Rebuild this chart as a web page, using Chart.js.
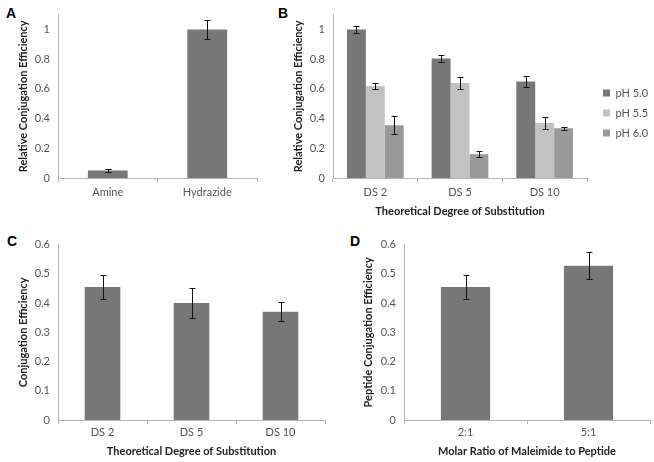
<!DOCTYPE html>
<html>
<head>
<meta charset="utf-8">
<script src="https://cdn.jsdelivr.net/npm/chart.js@4.4.1/dist/chart.umd.min.js"></script>
<style>
body { margin: 0; background: #fff; width: 654px; height: 462px; position: relative; overflow: hidden; }
.panel { position: absolute; }
.letter { position: absolute; font-family: 'Liberation Sans', Arial, sans-serif; font-weight: bold; font-size: 14px; line-height: 14px; color: #000; }
</style>
</head>
<body>
<div class="letter" style="left:6px;top:6px">A</div>
<div class="letter" style="left:278px;top:6px">B</div>
<div class="letter" style="left:7px;top:234px">C</div>
<div class="letter" style="left:350px;top:234px">D</div>
<div class="panel" style="left:0;top:0;width:270px;height:225px"><canvas id="chartA"></canvas></div>
<div class="panel" style="left:270px;top:0;width:384px;height:225px"><canvas id="chartB"></canvas></div>
<div class="panel" style="left:0;top:230px;width:330px;height:232px"><canvas id="chartC"></canvas></div>
<div class="panel" style="left:330px;top:230px;width:324px;height:232px"><canvas id="chartD"></canvas></div>
<script>
// panel A: amine vs hydrazide
const aLabels = ['Amine', 'Hydrazide'];
const aValues = [0.05, 1.0];
const aErrors = [0.01, 0.065];

// panel B: pH series per degree of substitution
const bLabels = ['DS 2', 'DS 5', 'DS 10'];
const bSeries = ['pH 5.0', 'pH 5.5', 'pH 6.0'];
const bPh50 = [1.0, 0.805, 0.65];
const bPh50Err = [0.022, 0.025, 0.04];
const bPh55 = [0.62, 0.64, 0.37];
const bPh55Err = [0.022, 0.04, 0.04];
const bPh60 = [0.355, 0.16, 0.335];
const bPh60Err = [0.06, 0.02, 0.01];

// panel C: conjugation efficiency per degree of substitution
const cLabels = ['DS 2', 'DS 5', 'DS 10'];
const cValues = [0.455, 0.40, 0.37];
const cErrors = [0.042, 0.052, 0.032];

// panel D: molar ratio
const dLabels = ['2:1', '5:1'];
const dValues = [0.455, 0.528];
const dErrors = [0.042, 0.045];

const axisColor = '#b4b4b4';
const tickColor = '#555555';
const titleColor = '#222222';
const tickFont = { family: 'Lato', size: 11 };
const titleFont = { family: 'Lato', size: 11, weight: 'bold' };

// draws the +/- error whiskers on top of each bar using the y scale
const errorBars = {
    id: 'errorBars',
    afterDatasetsDraw(chart) {
        const ctx = chart.ctx;
        const yScale = chart.scales.y;
        ctx.save();
        ctx.strokeStyle = '#111';
        ctx.lineWidth = 1;
        chart.data.datasets.forEach((ds, i) => {
            const meta = chart.getDatasetMeta(i);
            meta.data.forEach((bar, j) => {
                const v = ds.data[j];
                const e = ds.errors[j];
                const x = Math.round(bar.x) + 0.5;
                const top = Math.round(yScale.getPixelForValue(v + e)) + 0.5;
                const bottom = Math.round(yScale.getPixelForValue(v - e)) + 0.5;
                ctx.beginPath();
                ctx.moveTo(x, top); ctx.lineTo(x, bottom);
                ctx.moveTo(x - 3, top); ctx.lineTo(x + 3, top);
                ctx.moveTo(x - 3, bottom); ctx.lineTo(x + 3, bottom);
                ctx.stroke();
            });
        });
        ctx.restore();
    }
};

function buildOptions(cfg)
{
    return {
        responsive: true,
        maintainAspectRatio: false,
        animation: false,
        layout: { padding: cfg.padding },
        plugins: {
            legend: cfg.legend || { display: false },
            tooltip: { enabled: false }
        },
        scales: {
            x: {
                grid: { display: true, drawOnChartArea: false, drawTicks: true, tickLength: 4, color: axisColor, offset: true },
                border: { display: true, color: axisColor },
                ticks: { color: tickColor, font: tickFont, padding: cfg.xTickPad },
                title: { display: !!cfg.xTitle, text: cfg.xTitle, color: titleColor, font: titleFont, padding: { top: 0, bottom: cfg.xTitlePad } },
                afterFit: function(scale) { scale.height = cfg.xHeight; }
            },
            y: {
                min: 0,
                max: cfg.yMax,
                grid: { display: false, drawTicks: false },
                border: { display: true, color: axisColor },
                ticks: {
                    stepSize: cfg.yStep,
                    includeBounds: false,
                    color: tickColor,
                    font: tickFont,
                    padding: 8,
                    callback: function(v) { return String(Math.round(v * 10) / 10); }
                },
                title: { display: true, text: cfg.yTitle, color: titleColor, font: titleFont, padding: { top: cfg.yTitlePad, bottom: 0 } },
                afterFit: function(scale) { scale.width = cfg.yWidth; }
            }
        }
    };
}

function singleDataset(values, errors)
{
    return [{
        data: values,
        errors: errors,
        backgroundColor: '#777777',
        borderWidth: 0,
        barPercentage: 0.4,
        categoryPercentage: 1
    }];
}

new Chart(document.getElementById('chartA'), {
    type: 'bar',
    data: { labels: aLabels, datasets: singleDataset(aValues, aErrors) },
    options: buildOptions({
        padding: { top: 8, right: 13, bottom: 0, left: 0 },
        yMax: 1.1, yStep: 0.2, yWidth: 58, yTitlePad: 17,
        yTitle: 'Relative Conjugation Efficiency',
        xHeight: 47, xTickPad: 4
    }),
    plugins: [errorBars]
});

const bColors = ['#777777', '#c2c2c2', '#999999'];
const bValues = [bPh50, bPh55, bPh60];
const bErrors = [bPh50Err, bPh55Err, bPh60Err];

const optionsB = buildOptions({
    padding: { top: 8, right: 0, bottom: 7, left: 0 },
    yMax: 1.1, yStep: 0.2, yWidth: 63, yTitlePad: 22,
    yTitle: 'Relative Conjugation Efficiency',
    xHeight: 40, xTickPad: 4,
    xTitle: 'Theoretical Degree of Substitution', xTitlePad: 0,
    legend: {
        display: true,
        position: 'right',
        maxWidth: 60,
        labels: { boxWidth: 7, boxHeight: 7, padding: 9, color: tickColor, font: tickFont }
    }
});
// empty axis that only keeps a gap between the plot and the legend
optionsB.scales.spacer = {
    type: 'linear',
    axis: 'y',
    position: 'right',
    display: true,
    grid: { display: false, drawTicks: false },
    border: { display: false },
    ticks: { display: false },
    afterFit: function(scale) { scale.width = 7; }
};

new Chart(document.getElementById('chartB'), {
    type: 'bar',
    data: {
        labels: bLabels,
        datasets: bSeries.map((name, i) => ({
            label: name,
            data: bValues[i],
            errors: bErrors[i],
            backgroundColor: bColors[i],
            borderWidth: 0,
            barPercentage: 1,
            categoryPercentage: 0.67
        }))
    },
    options: optionsB,
    plugins: [errorBars]
});

new Chart(document.getElementById('chartC'), {
    type: 'bar',
    data: { labels: cLabels, datasets: singleDataset(cValues, cErrors) },
    options: buildOptions({
        padding: { top: 13, right: 5, bottom: 0, left: 0 },
        yMax: 0.6, yStep: 0.1, yWidth: 58, yTitlePad: 17,
        yTitle: 'Conjugation Efficiency',
        xHeight: 42, xTickPad: 2,
        xTitle: 'Theoretical Degree of Substitution', xTitlePad: 4
    }),
    plugins: [errorBars]
});

new Chart(document.getElementById('chartD'), {
    type: 'bar',
    data: { labels: dLabels, datasets: singleDataset(dValues, dErrors) },
    options: buildOptions({
        padding: { top: 13, right: 4, bottom: 0, left: 0 },
        yMax: 0.6, yStep: 0.1, yWidth: 74, yTitlePad: 32,
        yTitle: 'Peptide Conjugation Efficiency',
        xHeight: 42, xTickPad: 2,
        xTitle: 'Molar Ratio of Maleimide to Peptide', xTitlePad: 4
    }),
    plugins: [errorBars]
});
</script>
</body>
</html>
